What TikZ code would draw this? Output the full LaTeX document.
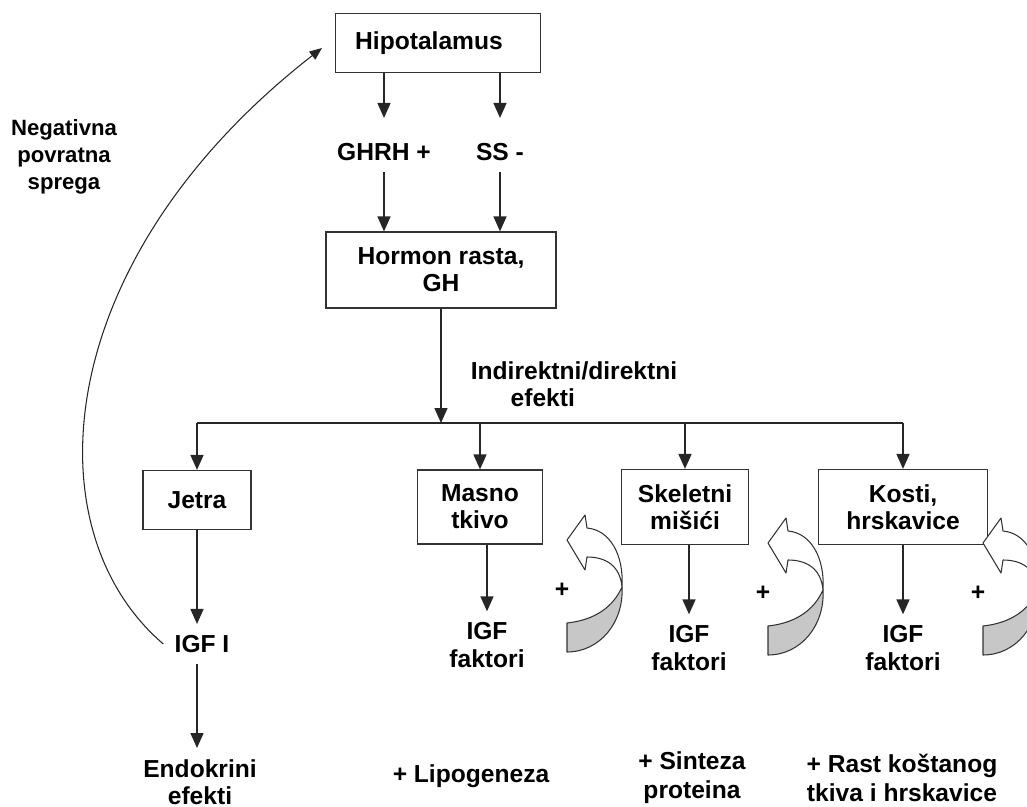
\documentclass[tikz,border=0pt]{standalone}
\usepackage{fontspec}
\setmainfont{Liberation Sans}
\usetikzlibrary{arrows.meta}

\begin{document}
\begin{tikzpicture}[x = 0.02cm, y = -0.02cm,
  font = \fontsize{14}{15.5}\selectfont\bfseries,
  kutija/.style = {draw = black!80, line width = 0.7pt, align = center, inner sep = 0pt},
  tekst/.style = {align = center, inner sep = 0.22cm},
  strelica/.style = {-{Triangle[length = 0.3cm, width = 0.26cm]}, line width = 0.9pt, black!85},
  tanka/.style = {-{Triangle[length = 0.25cm, width = 0.2cm]}, line width = 0.6pt, black!85},
  traka/.style = {draw = black!80, line width = 0.6pt, line join = round}]

\useasboundingbox (0,0) rectangle (1027,807);

\node[kutija, minimum width = 4.1cm, minimum height = 1.18cm] (hipo) at (438,43) {Hipotalamus\hspace*{0.36cm}};
\node[tekst] (ghrh) at (384,152) {GHRH +};
\node[tekst] (ss) at (500,152) {SS -};
\node[kutija, minimum width = 4.6cm, minimum height = 1.52cm] (hormon) at (441,270) {Hormon rasta,\\GH};
\node[tekst] (efekti) at (574,384) {Indirektni/direktni\\efekti\hspace*{1.25cm}};
\coordinate (grana) at (0,423);

\node[kutija, minimum width = 2.16cm, minimum height = 1.18cm] (jetra) at (197,500) {Jetra};
\node[kutija, minimum width = 2.5cm, minimum height = 1.48cm] (masno) at (480,507) {Masno\\tkivo};
\node[kutija, minimum width = 2.54cm, minimum height = 1.5cm] (skelet) at (685,507) {Skeletni\\mišići};
\node[kutija, minimum width = 3.38cm, minimum height = 1.5cm] (kosti) at (903,507) {Kosti,\\hrskavice};

\node[tekst] (igf) at (202,644) {IGF I};
\node[tekst] (igfm) at (487,645) {IGF\\faktori};
\node[tekst] (igfs) at (689,648) {IGF\\faktori};
\node[tekst] (igfk) at (903,648) {IGF\\faktori};

\node[tekst] (endo) at (200,782) {Endokrini\\efekti};
\node[tekst] (lipo) at (471,776) {+ Lipogeneza};
\node[tekst, font = \fontsize{14}{16.5}\selectfont\bfseries] (sinteza) at (692,778) {+ Sinteza\\proteina};
\node[tekst, font = \fontsize{14}{16.5}\selectfont\bfseries] (rast) at (902,778) {+ Rast koštanog\\tkiva i hrskavice};

\node[tekst, font = \fontsize{12.6}{15.5}\selectfont\bfseries] (povratna) at (64,157) {Negativna\\povratna\\sprega};
\coordinate (vrh) at (322,48);

\draw[strelica, shorten > = 0.28cm] (hipo.south -| ghrh) -- (ghrh.north);
\draw[strelica, shorten > = 0.28cm] (hipo.south -| ss) -- (ss.north);
\draw[strelica] (ghrh.south) -- (hormon.north -| ghrh);
\draw[strelica] (ss.south) -- (hormon.north -| ss);

\draw[strelica] (hormon.south) -- (hormon.south |- grana);
\draw[line width = 0.9pt, black!85] (jetra.north |- grana) -- (kosti.north |- grana);
\draw[strelica] (jetra.north |- grana) -- (jetra.north);
\draw[strelica] (masno.north |- grana) -- (masno.north);
\draw[strelica] (skelet.north |- grana) -- (skelet.north);
\draw[strelica] (kosti.north |- grana) -- (kosti.north);

\draw[strelica] (jetra.south) -- (igf.north -| jetra);
\draw[strelica] (igf.south -| jetra) -- (endo.north -| jetra);
\draw[strelica] (masno.south -| igfm) -- (igfm.north);
\draw[strelica] (skelet.south -| igfs) -- (igfs.north);
\draw[strelica] (kosti.south -| igfk) -- (igfk.north);

\draw[tanka] (igf.west) .. controls (30,530) and (50,260) .. (vrh);

\foreach \dx/\dy in {0/0, 201/3, 416/3} {
  \begin{scope}[shift = {(\dx,\dy)}]
    \filldraw[traka, fill = black!22] (622,587) .. controls (613,607) and (595,620) .. (567,623) -- (567,652) .. controls (600,652) and (624,622) .. (622,587) -- cycle;
    \filldraw[traka, fill = white] (622,587) .. controls (620,565) and (605,557) .. (587,557) -- (585,570) -- (567,540) -- (585,515) -- (587,528) .. controls (610,530) and (624,555) .. (622,587) -- cycle;
    \node at (562,590) {+};
  \end{scope}
}
\end{tikzpicture}
\end{document}
